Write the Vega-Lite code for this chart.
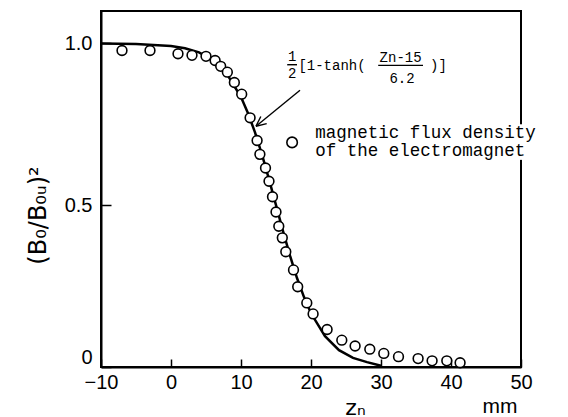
{
  "$schema": "https://vega.github.io/schema/vega-lite/v6.json",
  "width": 420,
  "height": 356,
  "autosize": "none",
  "padding": {"left": 101, "top": 11, "right": 47, "bottom": 50},
  "background": "white",
  "config": {
    "view": {"stroke": "black", "strokeWidth": 2},
    "axis": {"grid": false, "domainColor": "black", "domainWidth": 2, "tickColor": "black", "tickWidth": 1.5, "labelColor": "black", "titleColor": "black", "labelFont": "Liberation Sans", "titleFont": "DejaVu Sans", "labelFontSize": 20, "titleFontWeight": "normal"}
  },
  "datasets": {
    "curve": [
      {"z": -10, "v": 0.9997}, {"z": -5, "v": 0.998}, {"z": 0, "v": 0.992}, {"z": 2, "v": 0.985},
      {"z": 4, "v": 0.972}, {"z": 6, "v": 0.948}, {"z": 8, "v": 0.905}, {"z": 10, "v": 0.834},
      {"z": 11, "v": 0.784}, {"z": 12, "v": 0.725}, {"z": 13, "v": 0.656}, {"z": 14, "v": 0.58},
      {"z": 15, "v": 0.5}, {"z": 16, "v": 0.42}, {"z": 17, "v": 0.344}, {"z": 18, "v": 0.275},
      {"z": 19, "v": 0.216}, {"z": 20, "v": 0.166}, {"z": 22, "v": 0.095}, {"z": 24, "v": 0.052},
      {"z": 26, "v": 0.028}, {"z": 28, "v": 0.015}, {"z": 30, "v": 0.004}
    ],
    "points": [
      {"z": -7, "v": 0.978}, {"z": -3, "v": 0.978}, {"z": 1, "v": 0.968}, {"z": 3, "v": 0.963},
      {"z": 5, "v": 0.96}, {"z": 6.3, "v": 0.947}, {"z": 7.1, "v": 0.929}, {"z": 8.05, "v": 0.911},
      {"z": 9.05, "v": 0.879}, {"z": 10.1, "v": 0.843}, {"z": 11.3, "v": 0.77}, {"z": 12.3, "v": 0.7},
      {"z": 12.7, "v": 0.657}, {"z": 13.5, "v": 0.615}, {"z": 14, "v": 0.574}, {"z": 14.5, "v": 0.526},
      {"z": 15, "v": 0.479}, {"z": 15.4, "v": 0.435}, {"z": 15.9, "v": 0.399}, {"z": 16.4, "v": 0.356},
      {"z": 17.5, "v": 0.3}, {"z": 18.1, "v": 0.248}, {"z": 19.4, "v": 0.198}, {"z": 20.3, "v": 0.164},
      {"z": 22.3, "v": 0.116}, {"z": 24.4, "v": 0.083}, {"z": 26.3, "v": 0.065}, {"z": 28.4, "v": 0.055},
      {"z": 30.4, "v": 0.042}, {"z": 32.5, "v": 0.032}, {"z": 35.3, "v": 0.026}, {"z": 37.3, "v": 0.019},
      {"z": 39.4, "v": 0.019}, {"z": 41.3, "v": 0.013}
    ],
    "legendpoint": [{"z": 17.3, "v": 0.694}],
    "gap": [{"z": 49.5, "z2": 50.6, "v": 0.64, "v2": 0.75}],
    "segments": [
      {"z": 18.43, "v": 0.855, "z2": 12.14, "v2": 0.744},
      {"z": 12.14, "v": 0.744, "z2": 13.67, "v2": 0.752},
      {"z": 12.14, "v": 0.744, "z2": 12.83, "v2": 0.774},
      {"z": 16.6, "v": 0.934, "z2": 18.0, "v2": 0.934},
      {"z": 29.6, "v": 0.932, "z2": 36.0, "v2": 0.932}
    ],
    "formulacenter": [
      {"z": 17.3, "v": 0.957, "t": "1"},
      {"z": 17.3, "v": 0.905, "t": "2"},
      {"z": 32.8, "v": 0.955, "t": "Zn-15"},
      {"z": 33.0, "v": 0.89, "t": "6.2"}
    ],
    "formulaleft": [
      {"z": 18.2, "v": 0.929, "t": "[1-tanh("},
      {"z": 37.0, "v": 0.929, "t": ")]"}
    ],
    "legendtext": [
      {"z": 20.6, "v": 0.724, "t": "magnetic flux density"},
      {"z": 20.6, "v": 0.666, "t": "of the electromagnet"}
    ],
    "unit": [{"z": 47, "v": -0.125, "t": "mm"}]
  },
  "encoding": {
    "x": {"type": "quantitative", "scale": {"domain": [-10, 50], "nice": false}},
    "y": {"type": "quantitative", "scale": {"domain": [0, 1.1], "nice": false}}
  },
  "layer": [
    {
      "data": {"name": "curve"},
      "mark": {"type": "line", "color": "black", "strokeWidth": 2.5},
      "encoding": {
        "x": {"field": "z", "type": "quantitative", "axis": {"values": [-10, 0, 10, 20, 30, 40, 50], "tickSize": -8, "labelPadding": 13, "labelFlush": false, "title": "zₙ", "titleFontSize": 22, "titleX": 254, "titleY": 40, "titleBaseline": "middle"}},
        "y": {"field": "v", "type": "quantitative", "axis": {"values": [0, 0.5, 1], "tickSize": -10, "labelPadding": 19, "labelFlush": true, "labelExpr": "datum.value == 0 ? '0' : format(datum.value, '.1f')", "title": "(B₀/B₀ᵤ)²", "titleFontSize": 24, "titleX": -63, "titleY": 204, "titleAlign": "center", "titleBaseline": "middle", "titleAngle": -90}}
      }
    },
    {
      "mark": {"type": "rule", "color": "black", "strokeWidth": 2},
      "encoding": {"y": {"datum": 1}}
    },
    {
      "data": {"name": "gap"},
      "mark": {"type": "rect", "color": "white", "opacity": 1},
      "encoding": {"x": {"field": "z"}, "x2": {"field": "z2"}, "y": {"field": "v"}, "y2": {"field": "v2"}}
    },
    {
      "data": {"name": "points"},
      "mark": {"type": "point", "shape": "circle", "filled": false, "fill": "white", "fillOpacity": 1, "stroke": "black", "strokeWidth": 1.6, "size": 95, "opacity": 1},
      "encoding": {"x": {"field": "z"}, "y": {"field": "v"}}
    },
    {
      "data": {"name": "segments"},
      "mark": {"type": "rule", "color": "black", "strokeWidth": 1.4},
      "encoding": {"x": {"field": "z"}, "y": {"field": "v"}, "x2": {"field": "z2"}, "y2": {"field": "v2"}}
    },
    {
      "data": {"name": "formulacenter"},
      "mark": {"type": "text", "font": "Liberation Mono", "fontSize": 14, "align": "center", "baseline": "middle", "color": "black"},
      "encoding": {"x": {"field": "z"}, "y": {"field": "v"}, "text": {"field": "t"}}
    },
    {
      "data": {"name": "formulaleft"},
      "mark": {"type": "text", "font": "Liberation Mono", "fontSize": 14, "align": "left", "baseline": "middle", "color": "black"},
      "encoding": {"x": {"field": "z"}, "y": {"field": "v"}, "text": {"field": "t"}}
    },
    {
      "data": {"name": "legendtext"},
      "mark": {"type": "text", "font": "Liberation Mono", "fontSize": 17.5, "align": "left", "baseline": "middle", "color": "black"},
      "encoding": {"x": {"field": "z"}, "y": {"field": "v"}, "text": {"field": "t"}}
    },
    {
      "data": {"name": "legendpoint"},
      "mark": {"type": "point", "shape": "circle", "filled": false, "stroke": "black", "strokeWidth": 1.6, "size": 110, "opacity": 1},
      "encoding": {"x": {"field": "z"}, "y": {"field": "v"}}
    },
    {
      "data": {"name": "unit"},
      "mark": {"type": "text", "font": "Liberation Sans", "fontSize": 21, "align": "center", "baseline": "middle", "color": "black"},
      "encoding": {"x": {"field": "z"}, "y": {"field": "v"}, "text": {"field": "t"}}
    }
  ]
}
